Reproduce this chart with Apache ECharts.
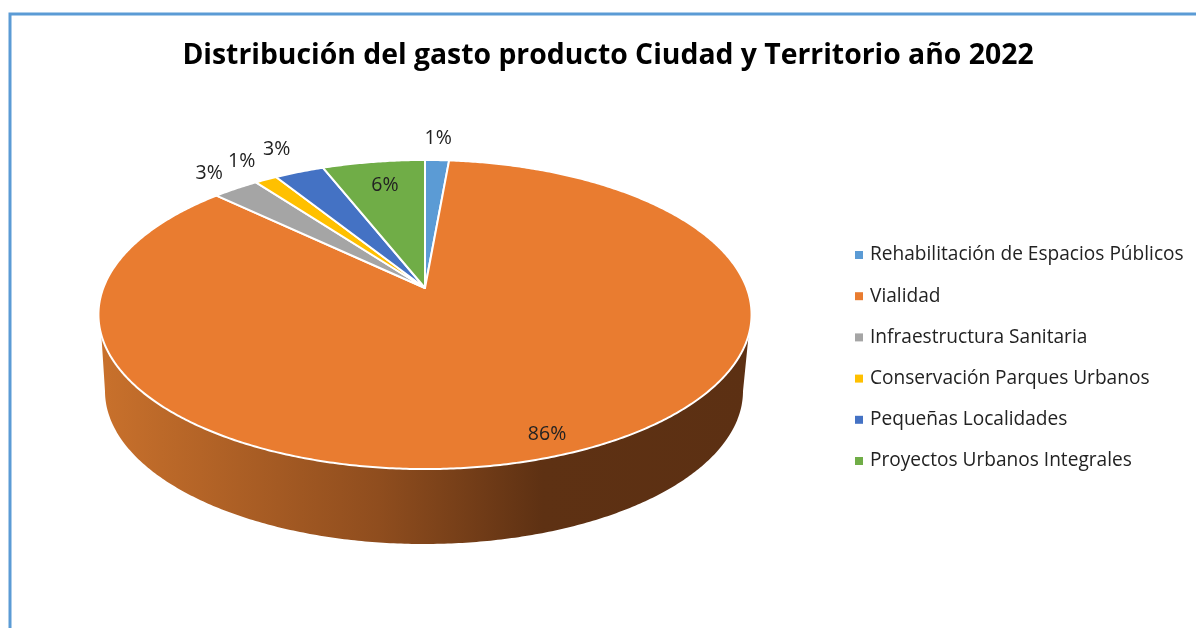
<!DOCTYPE html>
<html>
<head>
<meta charset="utf-8">
<style>html,body{margin:0;padding:0;background:#fff}#c{width:1196px;height:628px}</style>
<script src="https://cdn.jsdelivr.net/npm/echarts@6/dist/echarts.min.js"></script>
</head>
<body>
<div id="c"></div>
<script>
const categories = ['Rehabilitación de Espacios Públicos','Vialidad','Infraestructura Sanitaria','Conservación Parques Urbanos','Pequeñas Localidades','Proyectos Urbanos Integrales'];
const values = [1.4, 85.7, 2.7, 1.3, 2.9, 6.0];
const colors = ['#5B9BD5','#E97C30','#A5A5A5','#FFC000','#4472C4','#70AD47'];
const chartTitle = 'Distribución del gasto producto Ciudad y Territorio año 2022';

const FONT = '"Open Sans", sans-serif';
// perspective view of the disc
const view = {cx:425, apexY:288, a:150, b:321.7, k:0.1716};
const topRim = {cx:424.5, cy:314.5, rx:326.5, ry:154.5};
const baseRim = {cx:424, cy:391, rx:319, ry:153};
const wallStartY = 335;
const labelRadius = [1.21, 0.89, 1.18, 1.2, 1.24, 0.79];
const labelNudge = [-1, 4, 3, 3, 3, 2];

const total = values.reduce((s,v)=>s+v,0);
function project(theta, r){
  const u = r*Math.sin(theta), v = r*Math.cos(theta), d = 1+view.k*v;
  return [view.cx+view.b*u/d, view.apexY-view.a*v/d];
}
function wallPoints(arc){
  const t0 = Math.asin((wallStartY-topRim.cy)/topRim.ry);
  const upper = arc.filter(p=>p[1]>=wallStartY);
  if(upper.length<2) return null;
  const lower = upper.map(p=>{
    const t = Math.atan2((p[1]-topRim.cy)/topRim.ry,(p[0]-topRim.cx)/topRim.rx);
    const t2 = (t-t0)/(Math.PI-2*t0)*Math.PI;
    return [baseRim.cx+baseRim.rx*Math.cos(t2), baseRim.cy+baseRim.ry*Math.sin(t2)];
  });
  return upper.concat(lower.reverse());
}
const wallFill = new echarts.graphic.LinearGradient(99,0,751,0,[
  {offset:0,color:'#C9712C'},{offset:0.43,color:'#8F4D1E'},{offset:0.68,color:'#5E3113'},{offset:1,color:'#5C3013'}
],true);

function makeRender(i){
  return function(params, api){
    const start = values.slice(0,i).reduce((s,v)=>s+v,0)/total*2*Math.PI;
    const end = start+api.value(0)/total*2*Math.PI;
    const arc = [];
    const n = Math.max(2,Math.ceil((end-start)/(Math.PI/360)));
    for(let j=0;j<=n;j++) arc.push(project(start+(end-start)*j/n,1));
    const children = [];
    const wall = wallPoints(arc);
    if(wall) children.push({type:'polygon',shape:{points:wall},style:{fill:wallFill,stroke:null}});
    children.push({type:'polygon',shape:{points:[[view.cx,view.apexY]].concat(arc)},
      style:{fill:colors[i],stroke:'#fff',lineWidth:2,lineJoin:'round'}});
    const lp = project((start+end)/2,labelRadius[i]);
    children.push({type:'text',z2:10,style:{text:Math.round(api.value(0))+'%',x:lp[0]+labelNudge[i],y:lp[1]+0.5,
      align:'center',verticalAlign:'middle',fontFamily:FONT,fontSize:19.5,fill:'#222'}});
    return {type:'group',children:children};
  };
}

const chart = echarts.init(document.getElementById('c'),null,{renderer:'canvas'});
chart.setOption({
  animation:false,
  backgroundColor:'#fff',
  title:{text:chartTitle,left:603,top:37,textAlign:'center',
    textStyle:{fontFamily:FONT,fontWeight:'bold',fontSize:28.35,color:'#000'}},
  legend:{orient:'vertical',left:850,top:238,itemWidth:8,itemHeight:8,itemGap:17.2,icon:'rect',
    data:categories,
    textStyle:{fontFamily:FONT,fontSize:19.1,color:'#222',padding:[0,0,0,2],lineHeight:24}},
  graphic:[{type:'polyline',shape:{points:[[10,628],[10,14],[1196,14]]},
    style:{fill:null,stroke:'#5B9BD5',lineWidth:3}}],
  series:categories.map((name,i)=>({
    type:'custom',name:name,coordinateSystem:'none',
    itemStyle:{color:colors[i]},
    data:[[values[i]]],
    renderItem:makeRender(i)
  }))
});
</script>
</body>
</html>
